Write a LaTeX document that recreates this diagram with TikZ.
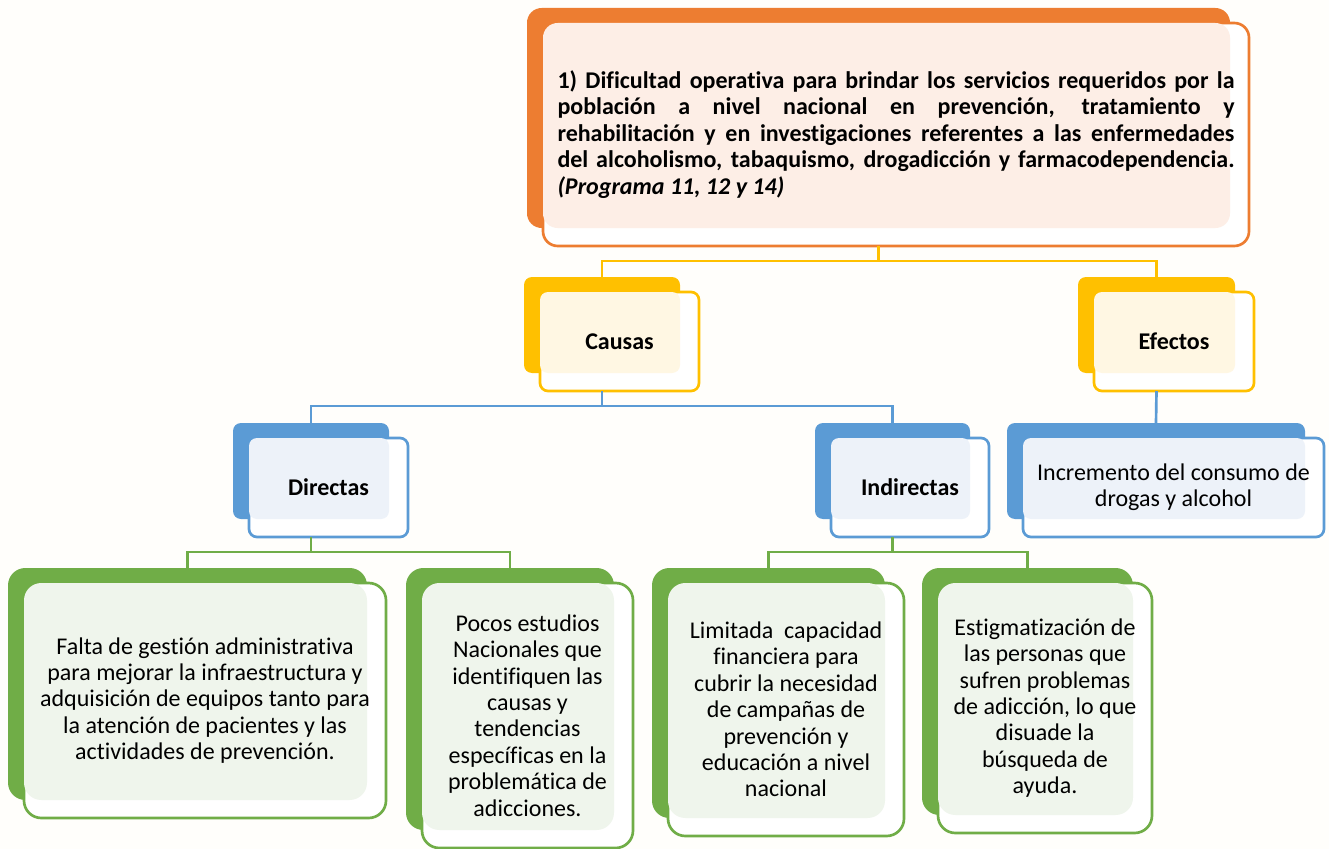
\documentclass[tikz,border=0pt]{standalone}
\usepackage{fontspec}
\setmainfont{Carlito}[Ligatures=NoCommon]
\definecolor{bgc}{HTML}{FFFEFB}
\definecolor{orgD}{HTML}{ED7D31}
\definecolor{orgL}{HTML}{FDEEE6}
\definecolor{ylwD}{HTML}{FFC000}
\definecolor{ylwL}{HTML}{FFF7E3}
\definecolor{bluD}{HTML}{5B9BD5}
\definecolor{bluL}{HTML}{EDF2F9}
\definecolor{grnD}{HTML}{70AD47}
\definecolor{grnL}{HTML}{EFF5EC}
\newcommand\mkbox[8]{%
 \fill[#2D, rounded corners=#7] (#3,#4) rectangle (#5,#6);
 \draw[#2D, line width=2pt, fill=white, rounded corners=#7] ({#3+16},{#4+15}) rectangle ({#5+19},{#6+18});
 \fill[#2L, rounded corners=#7] ({#3+16},{#4+15}) rectangle (#5,#6);
 \coordinate (#1-top) at ({(#3+#5)/2},#4);
 \coordinate (#1-bot) at ({(#3+#5)/2},{#6+18});
 \node[boxtext] (#1) at ({(#3+#5)/2+17.5},{(#4+#6)/2+16.5}) {#8};
}
\begin{document}
\begin{tikzpicture}[x=0.75pt,y=-0.75pt,
 boxtext/.style={font=\fontsize{18pt}{19.8pt}\selectfont, align=center, inner sep=0pt, text=black},
 conn/.style={line width=2pt}]
\fill[bgc] (0,0) rectangle (1329,849);
\useasboundingbox (0,0) rectangle (1329,849);

\mkbox{title}{org}{527}{8}{1230}{228}{11pt}{\parbox{507.75pt}{\bfseries
\makebox[507.75pt][s]{1) Dificultad operativa para brindar los servicios requeridos por la}\\
\makebox[507.75pt][s]{población a nivel nacional en prevención, tratamiento y}\\
\makebox[507.75pt][s]{rehabilitación y en investigaciones referentes a las enfermedades}\\
\makebox[507.75pt][s]{del alcoholismo, tabaquismo, drogadicción y farmacodependencia.}\\
\textit{(Programa 11, 12 y 14)}}}

\mkbox{causas}{ylw}{524}{277}{680}{373}{6pt}{\textbf{Causas}}
\mkbox{efectos}{ylw}{1078}{277}{1235}{373}{6pt}{\textbf{Efectos}}
\mkbox{directas}{blu}{233}{423}{389}{519}{6pt}{\textbf{Directas}}
\mkbox{indirectas}{blu}{815}{423}{970}{519}{6pt}{\textbf{Indirectas}}
\mkbox{incremento}{blu}{1007}{423}{1305}{519}{6pt}{Incremento del consumo de\\drogas y alcohol}
\mkbox{falta}{grn}{8}{568}{367}{800}{13pt}{Falta de gestión administrativa\\para mejorar la infraestructura y\\adquisición de equipos tanto para\\la atención de pacientes y las\\actividades de prevención.}
\mkbox{pocos}{grn}{406}{568}{614}{830}{13pt}{Pocos estudios\\Nacionales que\\identifiquen las\\causas y\\tendencias\\específicas en la\\problemática de\\adicciones.}
\mkbox{limitada}{grn}{652}{568}{885}{818}{13pt}{Limitada~ capacidad\\financiera para\\cubrir la necesidad\\de campañas de\\prevención y\\educación a nivel\\nacional}
\mkbox{estigma}{grn}{922}{568}{1133}{815}{13pt}{Estigmatización de\\las personas que\\sufren problemas\\de adicción, lo que\\disuade la\\búsqueda de\\ayuda.}

\draw[conn, ylwD] (title-bot) -- ++(0,15) coordinate (j1) -| (causas-top);
\draw[conn, ylwD] (j1) -| (efectos-top);
\draw[conn, bluD] (causas-bot) -- ++(0,15) coordinate (j2) -| (directas-top);
\draw[conn, bluD] (j2) -| (indirectas-top);
\draw[conn, bluD] (efectos-bot) -- (incremento-top);
\draw[conn, grnD] (directas-bot) -- ++(0,15) coordinate (j3) -| (falta-top);
\draw[conn, grnD] (j3) -| (pocos-top);
\draw[conn, grnD] (indirectas-bot) -- ++(0,15) coordinate (j4) -| (limitada-top);
\draw[conn, grnD] (j4) -| (estigma-top);
\end{tikzpicture}
\end{document}
